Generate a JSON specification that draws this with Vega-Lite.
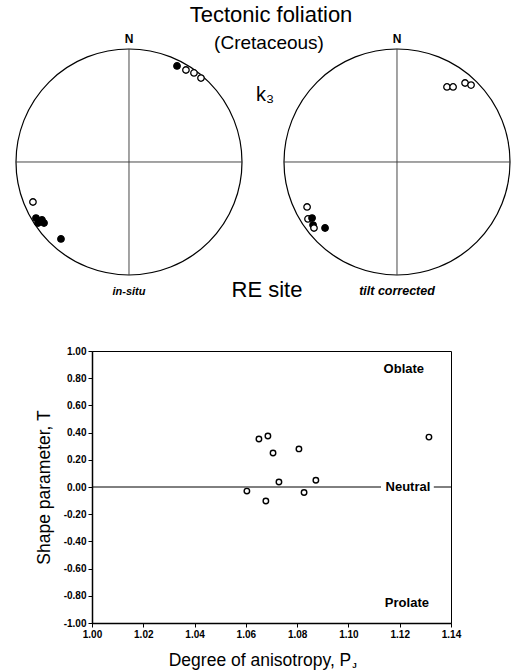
{
  "$schema": "https://vega.github.io/schema/vega-lite/v6.json",
  "padding": {"left": 13, "top": 0, "right": 0, "bottom": 0},
  "autosize": {"type": "pad"},
  "background": "white",
  "config": {"font": "Liberation Sans", "view": {"stroke": null}, "axis": {"labelOverlap": false}},
  "spacing": 0,
  "bounds": "flush",
  "datasets": {
    "nets": [
      {"projection": "in-situ", "cx": 0, "cy": 0},
      {"projection": "tilt corrected", "cx": 2.3717, "cy": 0}
    ],
    "crosshairs": [
      {"x": 0, "y": -1, "x2": 0, "y2": 1},
      {"x": -1, "y": 0, "x2": 1, "y2": 0},
      {"x": 2.3717, "y": -1, "x2": 2.3717, "y2": 1},
      {"x": 1.3717, "y": 0, "x2": 3.3717, "y2": 0}
    ],
    "poles": [
      {"projection": "in-situ", "symbol": "filled", "x": 0.425, "y": 0.85},
      {"projection": "in-situ", "symbol": "open", "x": 0.504, "y": 0.814},
      {"projection": "in-situ", "symbol": "open", "x": 0.575, "y": 0.788},
      {"projection": "in-situ", "symbol": "open", "x": 0.637, "y": 0.743},
      {"projection": "in-situ", "symbol": "open", "x": -0.85, "y": -0.354},
      {"projection": "in-situ", "symbol": "filled", "x": -0.823, "y": -0.496},
      {"projection": "in-situ", "symbol": "filled", "x": -0.77, "y": -0.513},
      {"projection": "in-situ", "symbol": "filled", "x": -0.752, "y": -0.54},
      {"projection": "in-situ", "symbol": "filled", "x": -0.805, "y": -0.54},
      {"projection": "in-situ", "symbol": "filled", "x": -0.602, "y": -0.681},
      {"projection": "tilt corrected", "symbol": "open", "x": 2.814, "y": 0.664},
      {"projection": "tilt corrected", "symbol": "open", "x": 2.868, "y": 0.664},
      {"projection": "tilt corrected", "symbol": "open", "x": 2.974, "y": 0.699},
      {"projection": "tilt corrected", "symbol": "open", "x": 3.027, "y": 0.681},
      {"projection": "tilt corrected", "symbol": "open", "x": 1.576, "y": -0.398},
      {"projection": "tilt corrected", "symbol": "open", "x": 1.584, "y": -0.504},
      {"projection": "tilt corrected", "symbol": "filled", "x": 1.62, "y": -0.496},
      {"projection": "tilt corrected", "symbol": "filled", "x": 1.629, "y": -0.558},
      {"projection": "tilt corrected", "symbol": "open", "x": 1.637, "y": -0.584},
      {"projection": "tilt corrected", "symbol": "filled", "x": 1.735, "y": -0.584}
    ],
    "topLabels": [
      {"label": "Tectonic  foliation", "x": 1.257, "y": 1.301},
      {"label": "RE site", "x": 1.221, "y": -1.133}
    ],
    "shape": [
      {"Pj": 1.0651, "T": 0.353},
      {"Pj": 1.0686, "T": 0.375},
      {"Pj": 1.0706, "T": 0.25},
      {"Pj": 1.0807, "T": 0.28},
      {"Pj": 1.0729, "T": 0.037},
      {"Pj": 1.0873, "T": 0.05},
      {"Pj": 1.0604, "T": -0.03},
      {"Pj": 1.0678, "T": -0.103},
      {"Pj": 1.0827, "T": -0.04},
      {"Pj": 1.1314, "T": 0.367}
    ],
    "neutralLine": [
      {"from": 1.0, "to": 1.1127, "T": 0},
      {"from": 1.1333, "to": 1.14, "T": 0}
    ],
    "zones": [
      {"label": "Oblate", "Pj": 1.1216, "T": 0.868},
      {"label": "Neutral", "Pj": 1.1232, "T": 0},
      {"label": "Prolate", "Pj": 1.1228, "T": -0.853}
    ]
  },
  "vconcat": [
    {
      "width": 359,
      "height": 351,
      "view": {"stroke": null},
      "layer": [
        {
          "data": {"name": "nets"},
          "mark": {"type": "point", "shape": "circle", "size": 51076, "filled": false, "stroke": "black", "strokeWidth": 1.2, "opacity": 1},
          "encoding": {
            "x": {"field": "cx", "type": "quantitative", "scale": {"domain": [-0.3274, 2.8496], "nice": false, "zero": false}, "axis": null},
            "y": {"field": "cy", "type": "quantitative", "scale": {"domain": [-1.6726, 1.4336], "nice": false, "zero": false}, "axis": null}
          }
        },
        {
          "data": {"name": "crosshairs"},
          "mark": {"type": "rule", "color": "#333", "strokeWidth": 0.9},
          "encoding": {
            "x": {"field": "x", "type": "quantitative"},
            "y": {"field": "y", "type": "quantitative"},
            "x2": {"field": "x2"},
            "y2": {"field": "y2"}
          }
        },
        {
          "data": {"name": "poles"},
          "mark": {"type": "point", "shape": "circle", "size": 42, "filled": true, "stroke": "black", "strokeWidth": 1.3, "opacity": 1},
          "encoding": {
            "x": {"field": "x", "type": "quantitative"},
            "y": {"field": "y", "type": "quantitative"},
            "fill": {"field": "symbol", "type": "nominal", "scale": {"domain": ["filled", "open"], "range": ["black", "white"]}, "legend": null}
          }
        },
        {
          "data": {"name": "topLabels"},
          "mark": {"type": "text", "fontSize": 22, "align": "center", "baseline": "middle", "color": "black"},
          "encoding": {
            "x": {"field": "x", "type": "quantitative"},
            "y": {"field": "y", "type": "quantitative"},
            "text": {"field": "label"}
          }
        },
        {
          "data": {"values": [{"label": "(Cretaceous)", "x": 1.239, "y": 1.053}]},
          "mark": {"type": "text", "fontSize": 19, "align": "center", "baseline": "middle", "color": "black"},
          "encoding": {
            "x": {"field": "x", "type": "quantitative"},
            "y": {"field": "y", "type": "quantitative"},
            "text": {"field": "label"}
          }
        },
        {
          "data": {"values": [{"label": "k₃", "x": 1.204, "y": 0.593}]},
          "mark": {"type": "text", "fontSize": 20, "align": "center", "baseline": "middle", "color": "black"},
          "encoding": {
            "x": {"field": "x", "type": "quantitative"},
            "y": {"field": "y", "type": "quantitative"},
            "text": {"field": "label"}
          }
        },
        {
          "data": {"name": "nets"},
          "mark": {"type": "text", "text": "N", "fontSize": 12, "fontWeight": "bold", "align": "center", "baseline": "bottom", "color": "black"},
          "encoding": {
            "x": {"field": "cx", "type": "quantitative"},
            "y": {"field": "cy", "type": "quantitative"},
            "yOffset": {"value": -116}
          }
        },
        {
          "data": {"name": "nets"},
          "transform": [{"filter": "datum.projection === 'in-situ'"}],
          "mark": {"type": "text", "fontSize": 11, "fontWeight": "bold", "fontStyle": "italic", "align": "center", "baseline": "top", "color": "black"},
          "encoding": {
            "x": {"field": "cx", "type": "quantitative"},
            "y": {"field": "cy", "type": "quantitative"},
            "yOffset": {"value": 124},
            "text": {"field": "projection"}
          }
        },
        {
          "data": {"name": "nets"},
          "transform": [{"filter": "datum.projection === 'tilt corrected'"}],
          "mark": {"type": "text", "fontSize": 12.5, "fontWeight": "bold", "fontStyle": "italic", "align": "center", "baseline": "top", "color": "black"},
          "encoding": {
            "x": {"field": "cx", "type": "quantitative"},
            "y": {"field": "cy", "type": "quantitative"},
            "yOffset": {"value": 123},
            "text": {"field": "projection"}
          }
        }
      ]
    },
    {
      "width": 359,
      "height": 272,
      "view": {"stroke": "black", "strokeWidth": 1},
      "layer": [
        {
          "data": {"name": "shape"},
          "mark": {"type": "point", "shape": "circle", "size": 30, "filled": false, "stroke": "black", "strokeWidth": 1.4, "opacity": 1},
          "encoding": {
            "x": {
              "field": "Pj", "type": "quantitative",
              "scale": {"domain": [1, 1.14], "nice": false, "zero": false},
              "axis": {
                "title": "Degree of anisotropy, P",
                "titleX": 167.5,
                "values": [1, 1.02, 1.04, 1.06, 1.08, 1.1, 1.12, 1.14],
                "tickCount": 20,
                "format": ".2f",
                "grid": false,
                "labelFlush": false,
                "labelOverlap": false,
                "labelFontSize": 10, "labelFontWeight": "bold", "labelColor": "black", "labelPadding": 2,
                "tickColor": "black", "tickSize": 4, "tickWidth": 1,
                "domainColor": "black", "domainWidth": 1.5,
                "titleFontSize": 17.5, "titleFontWeight": "normal", "titleColor": "black", "titlePadding": 12
              }
            },
            "y": {
              "field": "T", "type": "quantitative",
              "scale": {"domain": [-1, 1], "nice": false, "zero": false},
              "axis": {
                "title": "Shape parameter, T",
                "values": [-1, -0.8, -0.6, -0.4, -0.2, 0, 0.2, 0.4, 0.6, 0.8, 1],
                "tickCount": 20,
                "labelExpr": "replace(format(datum.value, '.2f'), '\u2212', '-')",
                "grid": false,
                "labelFlush": false,
                "labelOverlap": false,
                "labelFontSize": 10, "labelFontWeight": "bold", "labelColor": "black", "labelPadding": 2,
                "tickColor": "black", "tickSize": 4, "tickWidth": 1,
                "domainColor": "black", "domainWidth": 1.5,
                "titleFontSize": 17.5, "titleFontWeight": "normal", "titleColor": "black", "titlePadding": 10
              }
            }
          }
        },
        {
          "data": {"name": "neutralLine"},
          "mark": {"type": "rule", "color": "black", "strokeWidth": 1},
          "encoding": {
            "x": {"field": "from", "type": "quantitative"},
            "x2": {"field": "to"},
            "y": {"field": "T", "type": "quantitative"}
          }
        },
        {
          "data": {"name": "zones"},
          "mark": {"type": "text", "fontSize": 13, "fontWeight": "bold", "align": "center", "baseline": "middle", "color": "black"},
          "encoding": {
            "x": {"field": "Pj", "type": "quantitative"},
            "y": {"field": "T", "type": "quantitative"},
            "text": {"field": "label"}
          }
        },
        {
          "data": {"values": [{"label": "J", "Pj": 1.1015, "T": -1.315}]},
          "mark": {"type": "text", "fontSize": 8, "fontWeight": "bold", "align": "left", "baseline": "middle", "color": "black"},
          "encoding": {
            "x": {"field": "Pj", "type": "quantitative"},
            "y": {"field": "T", "type": "quantitative"},
            "text": {"field": "label"}
          }
        }
      ]
    }
  ]
}
